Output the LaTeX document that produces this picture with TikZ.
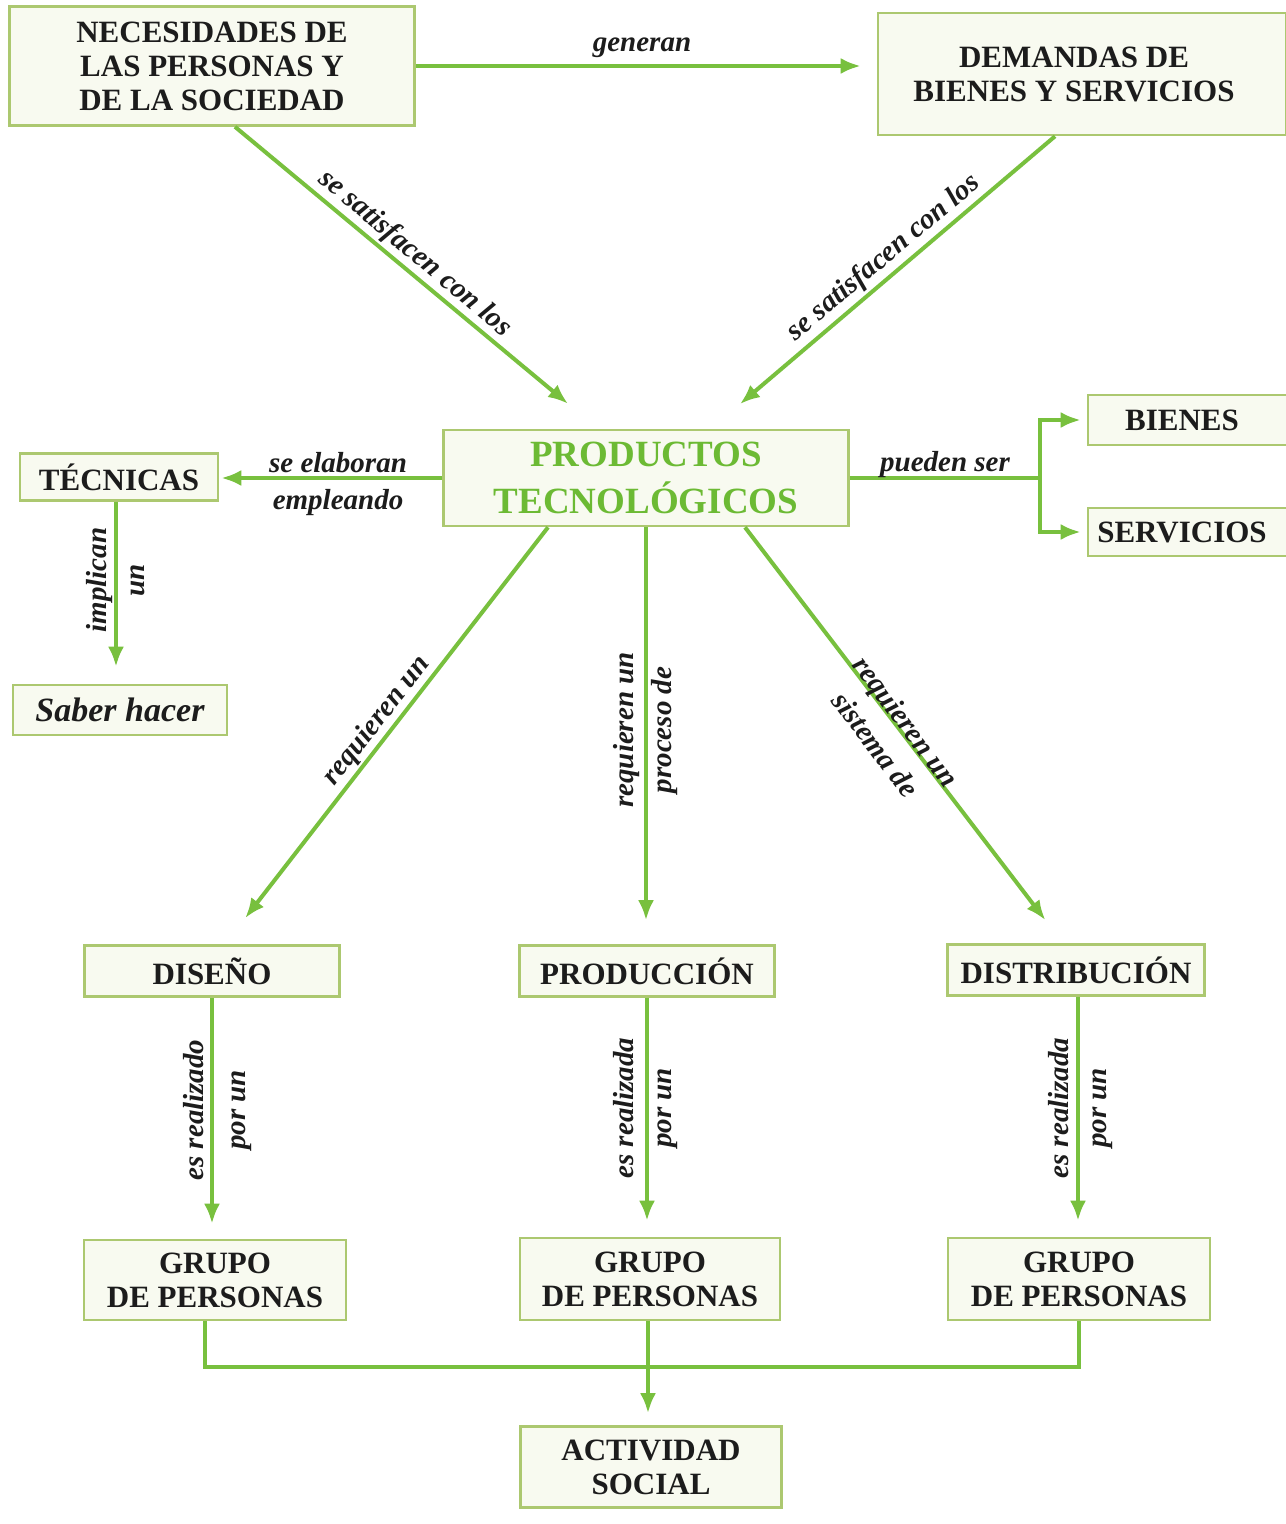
\documentclass[tikz,border=0pt]{standalone}
\usepackage{fontspec}
\setmainfont{Liberation Serif}
\usetikzlibrary{arrows.meta,calc}
\definecolor{linec}{RGB}{120,192,62}
\definecolor{boxc}{RGB}{172,200,112}
\definecolor{boxfill}{RGB}{248,250,240}
\definecolor{prodtext}{RGB}{108,186,52}
\definecolor{txt}{RGB}{28,28,28}
\begin{document}
\begin{tikzpicture}[x=0.5pt,y=-0.5pt,
  box/.style={draw=boxc, fill=boxfill, line width=1.3pt, align=center, inner sep=0pt,
    text=txt, font=\bfseries\fontsize{15.5}{17}\selectfont},
  lbl/.style={align=center, inner sep=0pt, text=txt,
    font=\bfseries\itshape\fontsize{14.5}{19}\selectfont},
  conn/.style={draw=linec, line width=2pt},
  arr/.style={conn, -{Latex[length=10pt,width=8pt]}}
]
\useasboundingbox[fill=white] (0,0) rectangle (1285,1524);

% nodes
\node[box, minimum width=202.5pt, minimum height=59.5pt] (nec) at (212,66) {NECESIDADES DE\\LAS PERSONAS Y\\DE LA SOCIEDAD};
\node[box, minimum width=204pt, minimum height=61pt] (dem) at (1082,74) {\hspace*{-8pt}DEMANDAS DE\\\hspace*{-8pt}BIENES Y SERVICIOS};
\node[box, minimum width=202.5pt, minimum height=48pt, text=prodtext,
  font=\bfseries\fontsize{18.5}{23.5}\selectfont] (prod) at (646,478) {PRODUCTOS\\TECNOLÓGICOS};
\node[box, minimum width=99pt, minimum height=23.5pt] (tec) at (119,477) {TÉCNICAS};
\node[box, minimum width=107pt, minimum height=25pt, font=\bfseries\itshape\fontsize{17}{19}\selectfont] (saber) at (120,710) {Saber hacer};
\node[box, minimum width=100pt, minimum height=25pt] (bienes) at (1188,420) {\hspace*{-6pt}BIENES};
\node[box, minimum width=100pt, minimum height=24pt] (servicios) at (1188,532) {\hspace*{-6pt}SERVICIOS};
\node[box, minimum width=127.5pt, minimum height=25.5pt] (diseno) at (212,971) {DISEÑO};
\node[box, minimum width=127.5pt, minimum height=25.5pt] (produccion) at (647,971) {PRODUCCIÓN};
\node[box, minimum width=128.5pt, minimum height=25.5pt] (distribucion) at (1076,970) {DISTRIBUCIÓN};
\node[box, minimum width=131pt, minimum height=40pt] (grupoa) at (215,1280) {GRUPO\\DE PERSONAS};
\node[box, minimum width=130pt, minimum height=41pt] (grupob) at (650,1279) {GRUPO\\DE PERSONAS};
\node[box, minimum width=131pt, minimum height=41pt] (grupoc) at (1079,1279) {GRUPO\\DE PERSONAS};
\node[box, minimum width=130.5pt, minimum height=40.5pt] (actividad) at (651,1467) {ACTIVIDAD\\SOCIAL};

% connectors
\draw[arr, shorten >=8pt] (nec.east) -- (nec.east -| dem.west);
\draw[arr, shorten >=19.5pt] ($(nec.south)+(23,0)$) -- ($(prod.north)+(-48,0)$);
\draw[arr, shorten >=19pt] ($(dem.south)+(-27,0)$) -- ($(prod.north)+(65,0)$);
\draw[arr, shorten >=1pt] (prod.west) -- (prod.west -| tec.east);
\coordinate (split) at (1040,478);
\draw[conn] (prod.east) -- (split);
\draw[arr, shorten >=3pt] (split) |- (bienes.west);
\draw[arr, shorten >=3pt] (split) |- (servicios.west);
\draw[arr, shorten >=8.5pt] ($(tec.south)+(-3,0)$) -- ($(tec.south |- saber.north)+(-3,0)$);
\draw[arr, shorten >=16.5pt] ($(prod.south)+(-98,0)$) -- ($(diseno.north)+(13,0)$);
\draw[arr, shorten >=12pt] (prod.south) -- (prod.south |- produccion.north);
\draw[arr, shorten >=14.5pt] ($(prod.south)+(99,0)$) -- ($(distribucion.north)+(-13,0)$);
\draw[arr, shorten >=7.5pt] (diseno.south) -- (diseno.south |- grupoa.north);
\draw[arr, shorten >=8pt] (produccion.south) -- (produccion.south |- grupob.north);
\draw[arr, shorten >=8pt] ($(distribucion.south)+(2,0)$) -- ($(distribucion.south |- grupoc.north)+(2,0)$);
\draw[conn] ($(grupoa.south)+(-10,0)$) -- ++(0,46) -| (grupoc.south);
\draw[arr, shorten >=6pt] ($(grupob.south)+(-2,0)$) -- ($(grupob.south |- actividad.north)+(-2,0)$);

% labels
\node[lbl] (lgeneran) at (642,48) {generan};
\node[lbl, rotate=-40] (lsat1) at (415,254) {se satisfacen con los};
\node[lbl, rotate=40] (lsat2) at (884,258) {se satisfacen con los};
\node[lbl, font=\bfseries\itshape\fontsize{14.5}{18.5}\selectfont] (lelab) at (338,484) {se elaboran\\empleando};
\node[lbl] (lpueden) at (945,465) {pueden ser};
\node[lbl, rotate=90] (limpl) at (116,580) {implican\\un};
\node[lbl, rotate=52] (lreq1) at (377,721) {requieren un};
\node[lbl, rotate=90] (lreq2) at (646,730) {requieren un\\proceso de};
\node[lbl, rotate=-53] (lreq3) at (891,733) {requieren un\\sistema de};
\node[lbl, rotate=90, font=\bfseries\itshape\fontsize{14.5}{21}\selectfont] (lreal1) at (218,1110) {es realizado\\por un};
\node[lbl, rotate=90] (lreal2) at (646,1108) {es realizada\\por un};
\node[lbl, rotate=90] (lreal3) at (1081,1108) {es realizada\\por un};
\end{tikzpicture}
\end{document}
